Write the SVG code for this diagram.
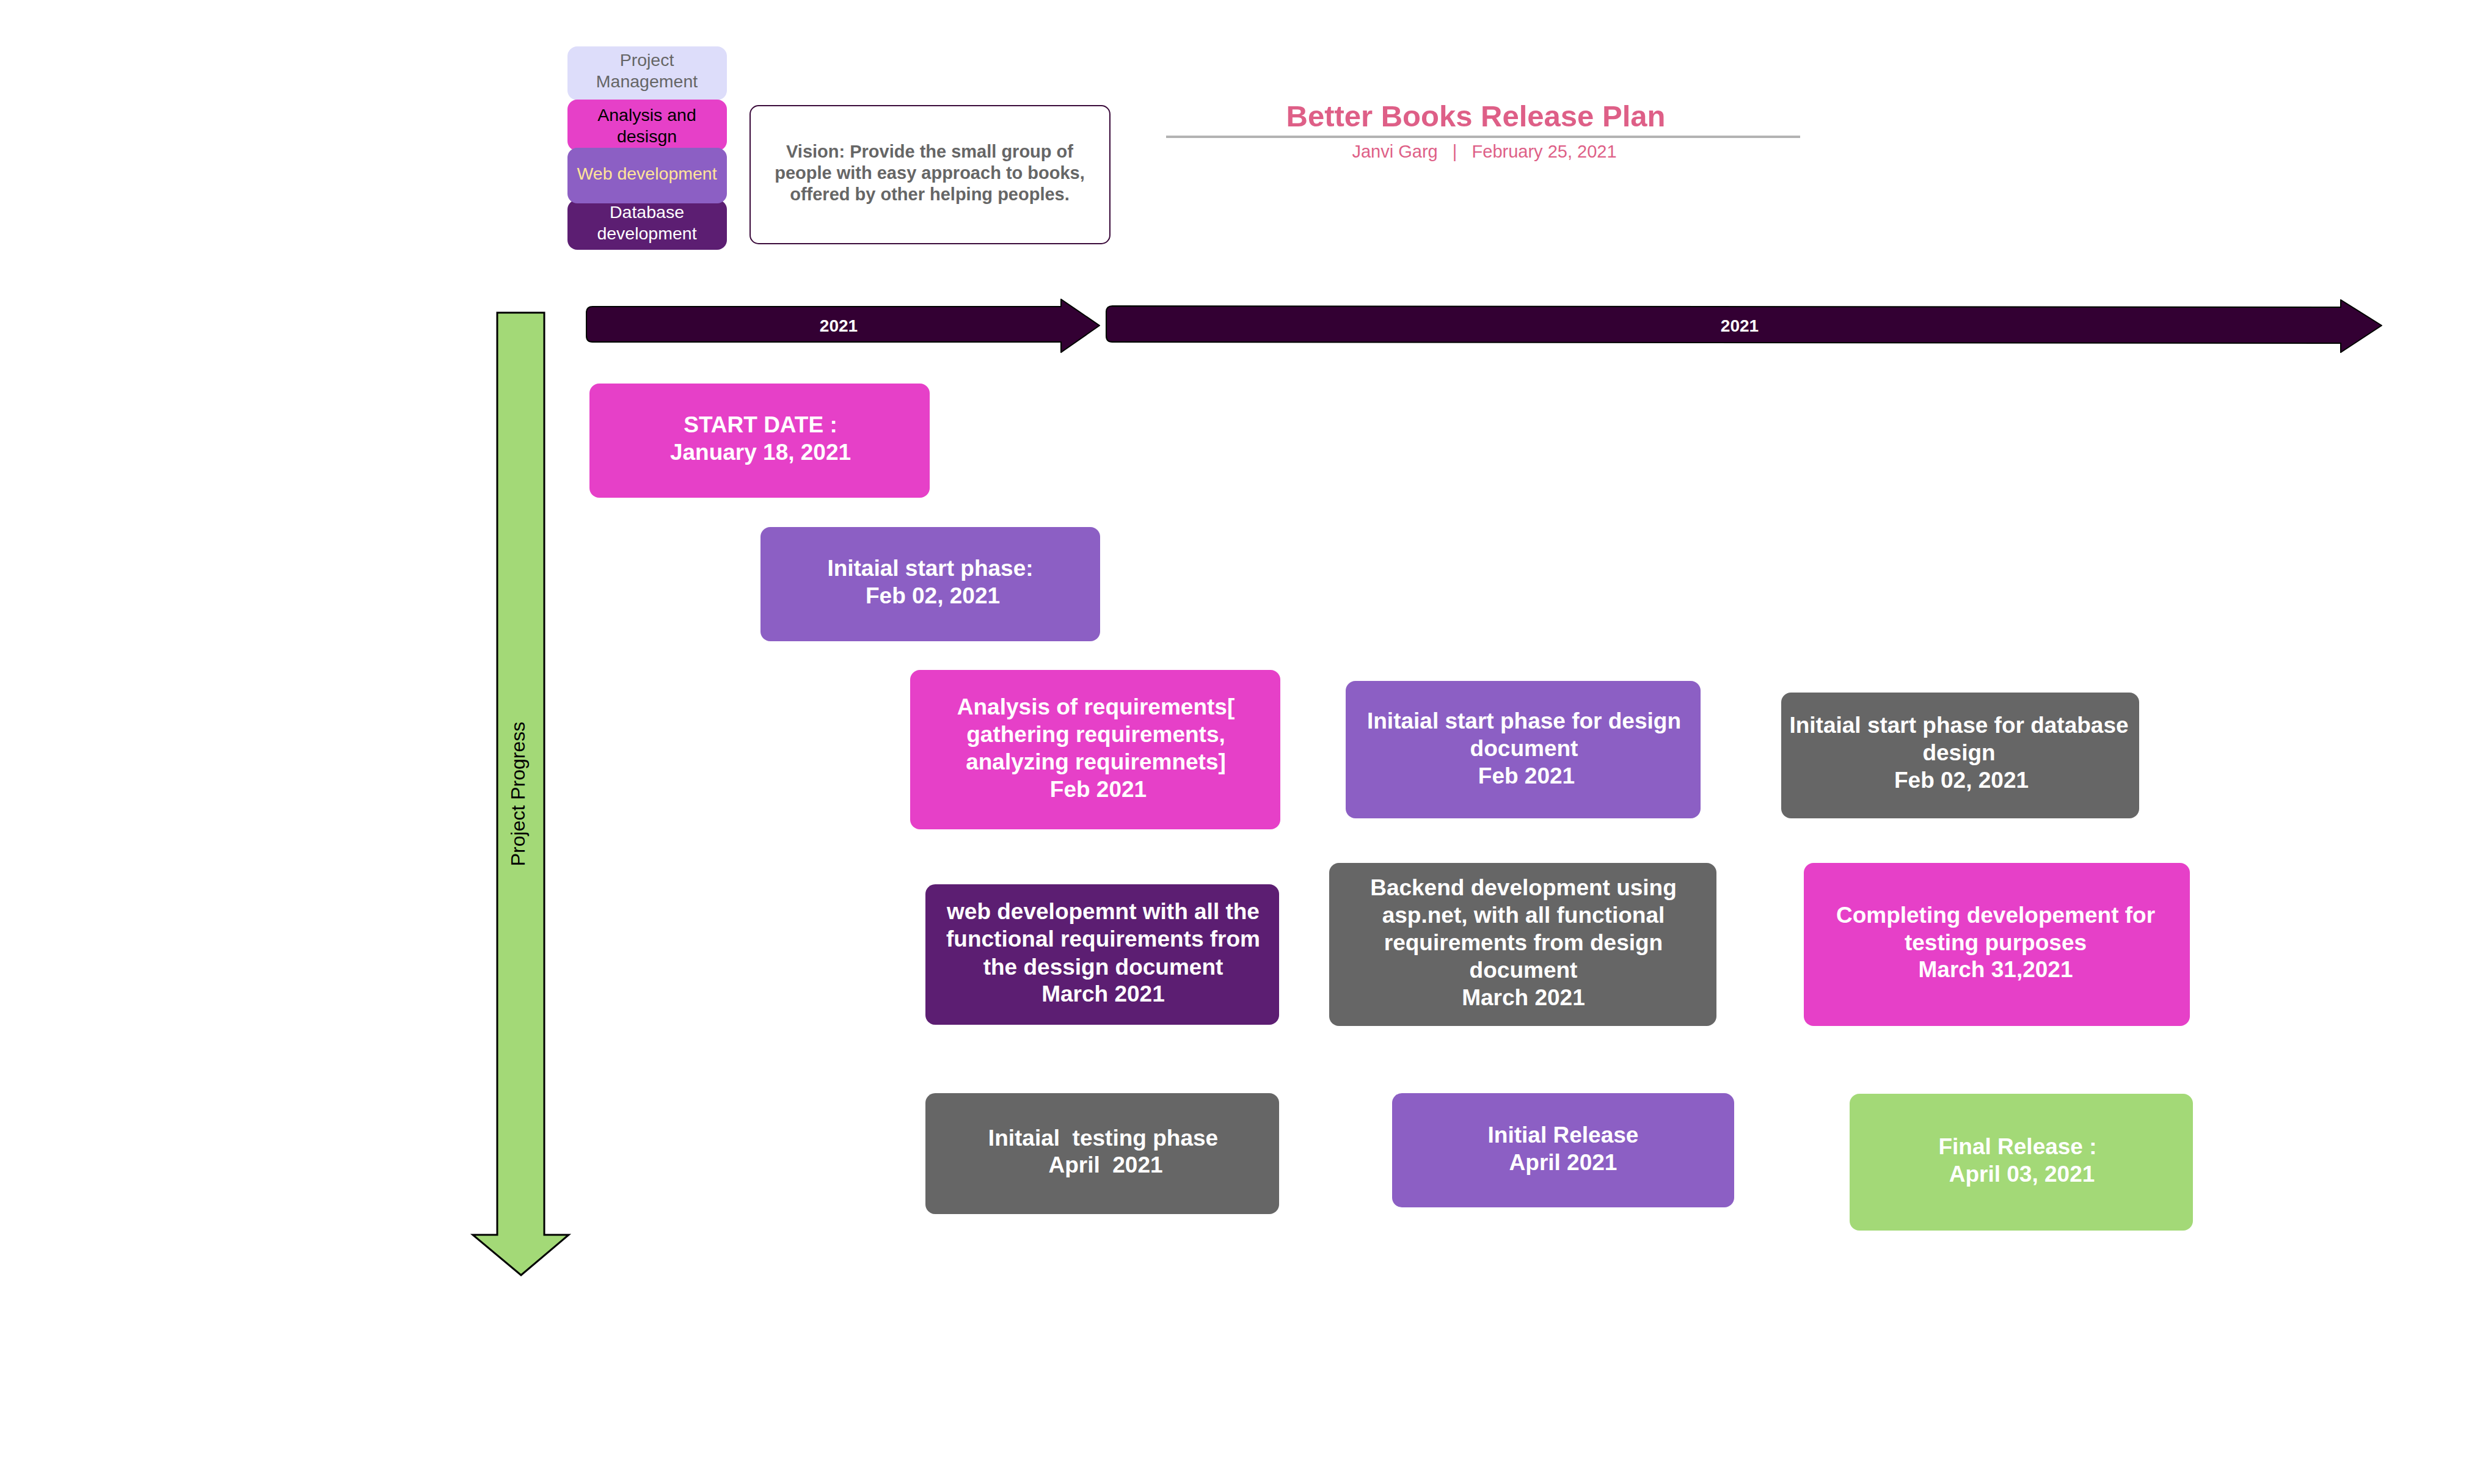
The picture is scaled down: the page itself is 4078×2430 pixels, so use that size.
<svg xmlns="http://www.w3.org/2000/svg" width="4078" height="2430" viewBox="0 0 4078 2430">
<style>
text{font-family:"Liberation Sans",Arial,sans-serif;}
.node{font-size:37px;font-weight:bold;fill:#ffffff;text-anchor:middle;}
.leg{font-size:28.5px;text-anchor:middle;}
.mag{fill:#E640C8;}
.pur{fill:#8C5FC4;}
.dpur{fill:#5C1E72;}
.gray{fill:#666666;}
.grn{fill:#A3D977;}
.yr{font-size:28px;font-weight:bold;fill:#ffffff;text-anchor:middle;}
</style>
<rect width="4078" height="2430" fill="#ffffff"/>

<g id="legend">
  <g id="legend-pm">
    <rect x="929" y="76" width="261" height="88" rx="16" fill="#DDDDFA"/>
    <text class="leg" fill="#666666"><tspan x="1059" y="108">Project</tspan><tspan x="1059" y="143">Management</tspan></text>
  </g>
  <g id="legend-analysis">
    <rect x="929" y="163" width="261" height="84" rx="16" class="mag"/>
    <text class="leg" fill="#000000"><tspan x="1059" y="198">Analysis and</tspan><tspan x="1059" y="233">desisgn</tspan></text>
  </g>
  <g id="legend-db">
    <rect x="929" y="327" width="261" height="82" rx="16" class="dpur"/>
    <text class="leg" fill="#ffffff"><tspan x="1059" y="357">Database</tspan><tspan x="1059" y="392">development</tspan></text>
  </g>
  <g id="legend-web">
    <rect x="929" y="242" width="261" height="91" rx="16" class="pur"/>
    <text class="leg" fill="#FFE599" x="1059" y="294">Web development</text>
  </g>
</g>

<g id="vision">
  <rect x="1228" y="173" width="589" height="226" rx="14" fill="#ffffff" stroke="#3A0A3A" stroke-width="2"/>
  <text font-size="29" font-weight="bold" fill="#666666" text-anchor="middle"><tspan x="1522" y="258">Vision: Provide the small group of</tspan><tspan x="1522" y="293">people with easy approach to books,</tspan><tspan x="1522" y="328">offered by other helping peoples.</tspan></text>
</g>

<g id="title">
  <text x="2416" y="207" font-size="49" font-weight="bold" fill="#DE5F87" text-anchor="middle">Better Books Release Plan</text>
  <line x1="1909" y1="224" x2="2947" y2="224" stroke="#B3B3B3" stroke-width="4"/>
  <text x="2430" y="258" font-size="29" fill="#DE5F87" text-anchor="middle" xml:space="preserve">Janvi Garg   |   February 25, 2021</text>
</g>

<g id="connectors">
  <g id="timeline-1">
    <path d="M970 502 L1737 502 L1737 490 L1800 533 L1737 577 L1737 560 L970 560 Q960 560 960 550 L960 512 Q960 502 970 502 Z" fill="#330033" stroke="#000000" stroke-width="2" stroke-linejoin="round"/>
    <text class="yr" x="1373" y="543">2021</text>
  </g>
  <g id="timeline-2">
    <path d="M1821 501 L3832 503 L3832 491 L3899 533 L3832 577 L3832 562 L1821 560 Q1811 560 1811 550 L1811 511 Q1811 501 1821 501 Z" fill="#330033" stroke="#000000" stroke-width="2" stroke-linejoin="round"/>
    <text class="yr" x="2848" y="543">2021</text>
  </g>
  <g id="progress-arrow">
    <path d="M814 512 L891 512 L891 2022 L931 2022 L853 2088 L774 2022 L814 2022 Z" fill="#A3D977" stroke="#000000" stroke-width="3" stroke-linejoin="miter"/>
    <text font-size="32" fill="#000000" text-anchor="middle" transform="translate(848 1300) rotate(-90)" x="0" y="11">Project Progress</text>
  </g>
</g>

<g id="node-start">
  <rect x="965" y="628" width="557" height="187" rx="16" class="mag"/>
  <text class="node"><tspan x="1245" y="708">START DATE :</tspan><tspan x="1245" y="753">January 18, 2021</tspan></text>
</g>

<g id="node-initial-start">
  <rect x="1245" y="863" width="556" height="187" rx="16" class="pur"/>
  <text class="node"><tspan x="1523" y="943">Initaial start phase:</tspan><tspan x="1527" y="988">Feb 02, 2021</tspan></text>
</g>

<g id="node-analysis">
  <rect x="1490" y="1097" width="606" height="261" rx="16" class="mag"/>
  <text class="node"><tspan x="1794" y="1170">Analysis of requirements[</tspan><tspan x="1794" y="1215">gathering requirements,</tspan><tspan x="1794" y="1260">analyzing requiremnets]</tspan><tspan x="1798" y="1305">Feb 2021</tspan></text>
</g>

<g id="node-design-doc">
  <rect x="2203" y="1115" width="581" height="225" rx="16" class="pur"/>
  <text class="node"><tspan x="2495" y="1193">Initaial start phase for design</tspan><tspan x="2495" y="1238">document</tspan><tspan x="2499" y="1283">Feb 2021</tspan></text>
</g>

<g id="node-db-design">
  <rect x="2916" y="1134" width="586" height="206" rx="16" class="gray"/>
  <text class="node"><tspan x="3207" y="1200">Initaial start phase for database</tspan><tspan x="3207" y="1245">design</tspan><tspan x="3211" y="1290">Feb 02, 2021</tspan></text>
</g>

<g id="node-web-dev">
  <rect x="1515" y="1448" width="579" height="230" rx="16" class="dpur"/>
  <text class="node"><tspan x="1806" y="1505">web developemnt with all the</tspan><tspan x="1806" y="1550">functional requirements from</tspan><tspan x="1806" y="1596">the dessign document</tspan><tspan x="1806" y="1640">March 2021</tspan></text>
</g>

<g id="node-backend">
  <rect x="2176" y="1413" width="634" height="267" rx="16" class="gray"/>
  <text class="node"><tspan x="2494" y="1466">Backend development using</tspan><tspan x="2494" y="1511">asp.net, with all functional</tspan><tspan x="2494" y="1556">requirements from design</tspan><tspan x="2494" y="1601">document</tspan><tspan x="2494" y="1646">March 2021</tspan></text>
</g>

<g id="node-completing">
  <rect x="2953" y="1413" width="632" height="267" rx="16" class="mag"/>
  <text class="node"><tspan x="3267" y="1511">Completing developement for</tspan><tspan x="3267" y="1556">testing purposes</tspan><tspan x="3267" y="1600">March 31,2021</tspan></text>
</g>

<g id="node-testing">
  <rect x="1515" y="1790" width="579" height="198" rx="16" class="gray"/>
  <text class="node" xml:space="preserve"><tspan x="1806" y="1876">Initaial  testing phase</tspan><tspan x="1810" y="1920">April  2021</tspan></text>
</g>

<g id="node-initial-release">
  <rect x="2279" y="1790" width="560" height="187" rx="16" class="pur"/>
  <text class="node"><tspan x="2559" y="1871">Initial Release</tspan><tspan x="2559" y="1916">April 2021</tspan></text>
</g>

<g id="node-final-release">
  <rect x="3028" y="1791" width="562" height="224" rx="16" class="grn"/>
  <text class="node"><tspan x="3303" y="1890">Final Release :</tspan><tspan x="3310" y="1935">April 03, 2021</tspan></text>
</g>
</svg>
